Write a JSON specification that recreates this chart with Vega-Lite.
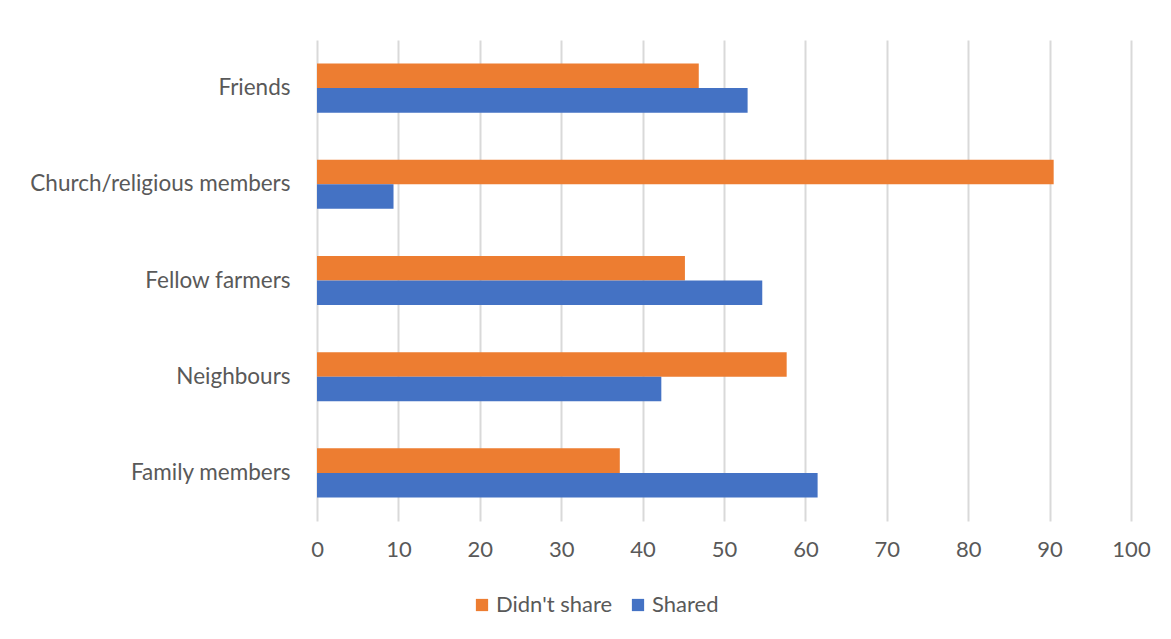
{
  "$schema": "https://vega.github.io/schema/vega-lite/v6.json",
  "width": 814,
  "height": 481,
  "autosize": {"type": "none"},
  "padding": {"left": 317, "top": 40, "right": 40, "bottom": 118},
  "background": "white",
  "config": {
    "view": {"stroke": null},
    "font": "Lato"
  },
  "data": {
    "values": [
      {"group": "Friends", "status": "Didn't share", "value": 46.9},
      {"group": "Friends", "status": "Shared", "value": 52.9},
      {"group": "Church/religious members", "status": "Didn't share", "value": 90.5},
      {"group": "Church/religious members", "status": "Shared", "value": 9.4},
      {"group": "Fellow farmers", "status": "Didn't share", "value": 45.2},
      {"group": "Fellow farmers", "status": "Shared", "value": 54.7},
      {"group": "Neighbours", "status": "Didn't share", "value": 57.7},
      {"group": "Neighbours", "status": "Shared", "value": 42.3},
      {"group": "Family members", "status": "Didn't share", "value": 37.2},
      {"group": "Family members", "status": "Shared", "value": 61.5}
    ]
  },
  "mark": {"type": "bar"},
  "encoding": {
    "y": {
      "field": "group",
      "type": "nominal",
      "sort": ["Friends", "Church/religious members", "Fellow farmers", "Neighbours", "Family members"],
      "scale": {"paddingInner": 0.49, "paddingOuter": 0.245},
      "axis": {
        "title": null,
        "domain": false,
        "ticks": false,
        "labelPadding": 27,
        "labelFontSize": 22.5,
        "labelColor": "#595959",
        "labelLimit": 400
      }
    },
    "yOffset": {
      "field": "status",
      "type": "nominal",
      "sort": ["Didn't share", "Shared"]
    },
    "x": {
      "field": "value",
      "type": "quantitative",
      "scale": {"domain": [0, 100], "nice": false},
      "axis": {
        "title": null,
        "values": [0, 10, 20, 30, 40, 50, 60, 70, 80, 90, 100],
        "domain": false,
        "ticks": false,
        "grid": true,
        "gridColor": "#d9d9d9",
        "gridWidth": 2,
        "labelPadding": 18,
        "labelFontSize": 22,
        "labelColor": "#595959",
        "labelFlush": false
      }
    },
    "color": {
      "field": "status",
      "type": "nominal",
      "scale": {"domain": ["Didn't share", "Shared"], "range": ["#ed7d31", "#4472c4"]},
      "legend": {
        "title": null,
        "orient": "none",
        "direction": "horizontal",
        "legendX": 154,
        "legendY": 554,
        "symbolType": "square",
        "symbolSize": 150,
        "symbolStrokeWidth": 0,
        "labelFontSize": 22,
        "labelColor": "#595959",
        "columnPadding": 14,
        "labelOffset": 3
      }
    }
  }
}
